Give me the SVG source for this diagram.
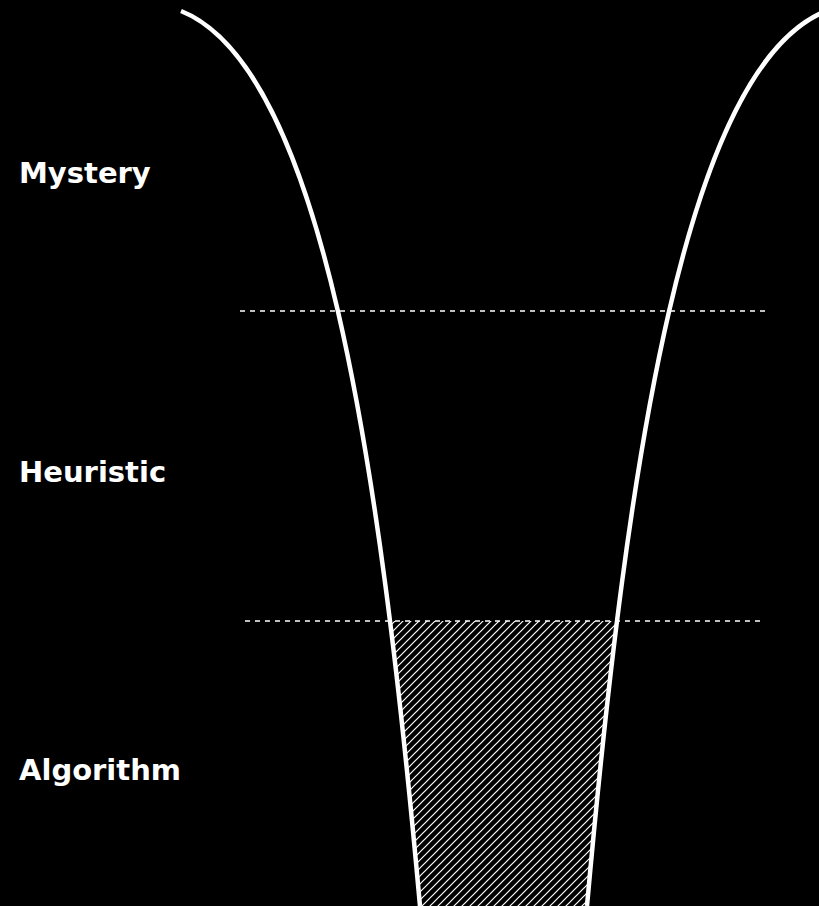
<svg xmlns="http://www.w3.org/2000/svg" width="819" height="906" viewBox="0 0 819 906">
  <style>
    .label { font-family: "DejaVu Sans", "Liberation Sans", sans-serif; font-weight: bold; font-size: 29px; fill: #ffffff; }
    .curve { fill: none; stroke: #ffffff; stroke-width: 4.5; stroke-linecap: butt; }
    .divider { fill: none; stroke: #ffffff; stroke-width: 1.5; stroke-dasharray: 5 5; }
  </style>
  <defs>
    <pattern id="hatch" patternUnits="userSpaceOnUse" width="8" height="8">
      <path d="M-2,2 L2,-2 M0,8 L8,0 M6,10 L10,6" stroke="#ffffff" stroke-width="1.2"/>
    </pattern>
    <clipPath id="funnel">
      <path d="M181,11 C321,67 379.5,456 420,906 L587,906 C627.5,456 686,67 826,11 Z"/>
    </clipPath>
  </defs>
  <rect width="819" height="906" fill="#000000"/>
  <g id="hatched-region">
    <rect x="300" y="621" width="400" height="290" fill="url(#hatch)" clip-path="url(#funnel)"/>
  </g>
  <g id="connectors">
    <line class="divider" x1="240" y1="311" x2="766" y2="311"/>
    <line class="divider" x1="245" y1="621" x2="762" y2="621"/>
  </g>
  <g id="funnel-left">
    <path class="curve" d="M181,11 C321,67 379.5,456 420,906"/>
  </g>
  <g id="funnel-right">
    <path class="curve" d="M826,11 C686,67 627.5,456 587,906"/>
  </g>
  <g id="mystery"><text class="label" x="19" y="183">Mystery</text></g>
  <g id="heuristic"><text class="label" x="19" y="482">Heuristic</text></g>
  <g id="algorithm"><text class="label" x="19" y="780">Algorithm</text></g>
</svg>
